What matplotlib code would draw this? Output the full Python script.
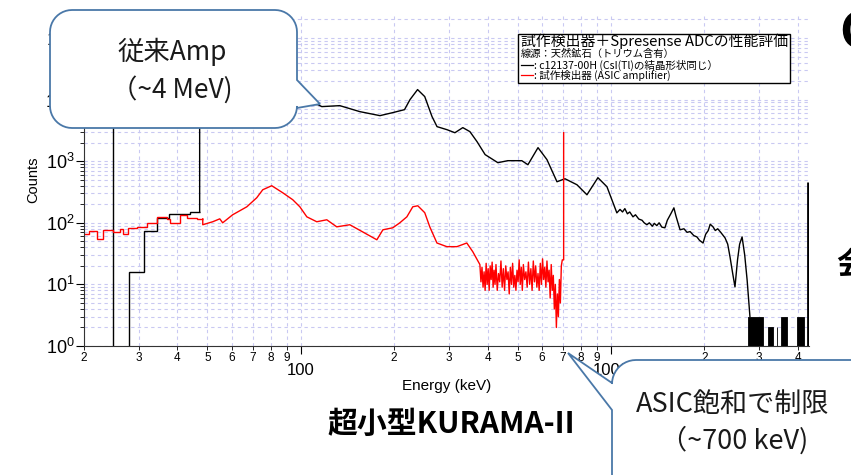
import numpy as np
import matplotlib.pyplot as plt
from matplotlib.ticker import FixedLocator, FixedFormatter, NullFormatter
from matplotlib.patches import Polygon, Rectangle

# ---- data (energy in keV, counts) ----
# c12137-00H (black): coarse bins at low energy
black_edges = [20.0, 24.8, 27.9, 31.2, 34.4, 37.6, 43.8, 47.2]
black_bin_counts = [3e5, 0, 16, 75, 120, 140, 150]

black_energy = [47.2, 47.2, 60, 80, 100, 113.5, 116.9, 133.6, 155, 180, 198, 216, 225,
                238, 251, 265, 275, 296, 314, 333, 351, 370, 393, 432, 465, 516,
                540, 582, 622, 670, 711, 777, 837, 908, 971,
                1045, 1070, 1090, 1109, 1130, 1150, 1178, 1200, 1230, 1260, 1280,
                1306, 1330, 1360, 1380, 1406, 1430, 1460, 1493, 1520, 1560, 1596,
                1620, 1650, 1671, 1720, 1760, 1800, 1850, 1894, 1930, 1982, 2020,
                2060, 2090, 2134, 2170, 2210, 2260, 2333, 2380, 2421, 2470, 2512,
                2560, 2600, 2648, 2700, 2749, 2807]
black_counts = [150, 12000, 11000, 9500, 8800, 8290, 7700, 7980, 6380, 5490, 6150, 6870,
                10000, 14550, 11200, 5290, 3640, 3250, 2900, 3510, 3020, 2080, 1280,
                946, 1020, 1020, 877, 1660, 1060, 464, 519, 415, 285, 540, 385,
                145, 165, 150, 170, 140, 150, 125, 135, 115, 110, 100,
                93, 100, 88, 98, 90, 100, 85, 83, 110, 140, 175,
                130, 95, 77, 80, 70, 72, 62, 59, 52, 47, 65,
                75, 95, 86, 75, 80, 70, 57, 45, 28, 15, 9.1,
                25, 45, 59, 30, 11.8, 3.0]

# sparse high-energy noise (start keV, end keV, top counts)
noise_lo = [2767, 3207, 3428, 3535, 3981]
noise_hi = [3093, 3330, 3440, 3696, 4190]
noise_top = [3, 2, 2, 3, 3]
overflow_energy = 4318
overflow_counts = 465

# prototype detector (red)
red_edges = [20.0, 20.7, 22.0, 23.0, 24.8, 26.1, 26.7, 27.7, 29.6, 31.9, 34.3, 37.0,
             37.8, 40.7, 42.9, 46.2, 48.3]
red_bin_counts = [66, 74, 55, 77, 71, 80, 66, 83, 86, 100, 125, 116, 100, 135, 121, 116]

red_energy = [48.3, 48.3, 52.0, 54.8, 56.0, 60.3, 67.0, 72.1, 75.4, 80.6, 87.5, 94.2,
              99.3, 104.6, 112.6, 121.3, 130.6, 143.9, 158.5, 175.9, 184, 198, 208.6,
              219.8, 229.7, 238.4, 251, 260.6, 274.8, 295.8, 318.7, 343, 358.5,
              378, 381, 384, 387, 390, 393, 396, 399, 402, 405, 408, 411, 414, 417,
              420, 423, 426, 430, 434, 438, 442, 446, 450, 454, 458, 462, 466, 470,
              474, 478, 482, 486, 490, 494, 498, 502, 506, 510, 514, 518, 522, 527,
              532, 537, 542, 547, 552, 557, 562, 567, 572, 577, 582, 587, 592, 597,
              602, 607, 612, 617, 622, 627, 632, 637, 642, 647, 652, 657, 662, 667,
              672, 677, 682, 687, 692, 697, 704, 704]
red_counts = [116, 93, 104, 116, 100, 135, 182, 255, 344, 400, 307, 237,
              182, 125, 104, 112, 86, 93, 71, 53, 77, 83, 100,
              125, 182, 189, 146, 86, 47, 41, 41, 47, 34,
              21, 11, 19, 9, 16, 8, 22, 10, 18, 8, 20, 12, 23, 9,
              17, 10, 21, 8, 15, 11, 24, 9, 18, 8, 20, 12, 16, 7,
              19, 10, 22, 9, 14, 8, 17, 11, 25, 10, 19, 8, 21, 12,
              16, 9, 23, 10, 18, 8, 24, 11, 20, 9, 15, 8, 22, 10,
              26, 12, 19, 9, 24, 11, 17, 6, 21, 8, 14, 4, 10, 2,
              7, 3, 12, 5, 20, 25, 25, 2900]

x_major = [100, 1000]
x_major_labels = ['100', '1000']
x_minor = [20, 30, 40, 50, 60, 70, 80, 90, 200, 300, 400, 500, 600, 700, 800, 900,
           2000, 3000, 4000]
x_minor_labels = ['2', '3', '4', '5', '6', '7', '8', '9', '2', '3', '4', '5', '6',
                  '7', '8', '9', '2', '3', '4']
y_major = [1, 10, 100, 1000, 10000, 100000]
y_major_labels = [r'$\mathregular{10^{%d}}$' % k for k in range(6)]

legend_title = '試作検出器＋Spresense ADCの性能評価'
legend_source = '線源：天然鉱石（トリウム含有）'
legend_black = ': c12137-00H (CsI(Tl)の結晶形状同じ）'
legend_red = ': 試作検出器 (ASIC amplifier)'

plt.rcParams['font.family'] = ['Liberation Sans', 'Noto Sans CJK JP']
jp = ['Noto Sans CJK JP', 'DejaVu Sans']

W, H = 851, 475
fig = plt.figure(figsize=(W / 100, H / 100), dpi=100)
ax = fig.add_axes([84 / W, 1 - 346 / H, (809 - 84) / W, (346 - 13.5) / H])
ax.set_xscale('log')
ax.set_yscale('log')
ax.set_xlim(20, 4352)
ax.set_ylim(1, 2.5e5)

grid_kw = dict(color='#c9c9f2', linestyle=(0, (3, 3)), linewidth=0.8)
ax.grid(True, which='both', **grid_kw)
ax.set_axisbelow(True)

ax.stairs(black_bin_counts, black_edges, color='black', lw=1.0, baseline=None)
ax.plot(black_energy, black_counts, color='black', lw=1.0)
for lo, hi, top in zip(noise_lo, noise_hi, noise_top):
    ax.fill_between([lo, hi], [0.5, 0.5], [top, top], color='black', lw=0.6,
                    edgecolor='black')
ax.vlines(overflow_energy, 0.5, overflow_counts, color='black', lw=2.0)

ax.stairs(red_bin_counts, red_edges, color='red', lw=1.0, baseline=None)
ax.plot(red_energy, red_counts, color='red', lw=1.0)

for side in ['top', 'right']:
    ax.spines[side].set_visible(False)
ax.spines['left'].set_color('#333333')
ax.spines['bottom'].set_color('#333333')

ax.xaxis.set_major_locator(FixedLocator(x_major))
ax.xaxis.set_major_formatter(FixedFormatter(x_major_labels))
ax.xaxis.set_minor_locator(FixedLocator(x_minor))
ax.xaxis.set_minor_formatter(FixedFormatter(x_minor_labels))
ax.tick_params(axis='x', which='major', length=6, pad=6, labelsize=12)
ax.tick_params(axis='x', which='minor', length=3, pad=1.5, labelsize=8.5)

ax.yaxis.set_major_locator(FixedLocator(y_major))
ax.yaxis.set_major_formatter(FixedFormatter(y_major_labels))
ax.yaxis.set_minor_formatter(NullFormatter())
ax.tick_params(axis='y', which='major', length=6, pad=1, labelsize=13)
ax.tick_params(axis='y', which='minor', length=3)

ax.set_xlabel('Energy (keV)', fontsize=11, labelpad=1)
ax.set_ylabel('Counts', fontsize=10.5, labelpad=4)

# ---- overlay in pixel coordinates ----
ov = fig.add_axes([0, 0, 1, 1], zorder=10)
ov.set_xlim(0, W)
ov.set_ylim(H, 0)
ov.axis('off')
ov.patch.set_alpha(0)


def callout(x0, y0, x1, y1, r, side, a, b, tip):
    def arc(cx, cy, t0, t1):
        t = np.linspace(t0, t1, 12)
        return list(zip(cx + r * np.cos(t), cy + r * np.sin(t)))
    pts = []
    pts += arc(x0 + r, y0 + r, np.pi, 1.5 * np.pi)
    pts += arc(x1 - r, y0 + r, 1.5 * np.pi, 2 * np.pi)
    if side == 'right':
        pts += [(x1, a), tip, (x1, b)]
    pts += arc(x1 - r, y1 - r, 0, 0.5 * np.pi)
    pts += arc(x0 + r, y1 - r, 0.5 * np.pi, np.pi)
    if side == 'left':
        pts += [(x0, b), tip, (x0, a)]
    ov.add_patch(Polygon(pts, closed=True, facecolor='white', edgecolor='#4a78a8',
                         lw=1.3, clip_on=False))


callout(50, 10, 297, 128, 22, 'right', 80, 108, (320, 104))
ov.text(172, 52, '従来Amp', ha='center', va='center', fontsize=19, family=jp,
        color='#1a1a1a')
ov.text(172, 90, '（~4 MeV)', ha='center', va='center', fontsize=19, family=jp,
        color='#1a1a1a')

callout(612, 360, 900, 520, 24, 'left', 383, 410, (568, 353))
ov.text(733, 404, 'ASIC飽和で制限', ha='center', va='center', fontsize=19.5,
        family=jp, color='#1a1a1a')
ov.text(734, 440, '（~700 keV)', ha='center', va='center', fontsize=19.5,
        family=jp, color='#1a1a1a')

ov.text(451, 424, '超小型KURAMA-II', ha='center', va='center', fontsize=21.5,
        fontweight='bold', family=jp, color='black')

# legend box
ov.add_patch(Rectangle((518, 34), 272, 49, facecolor='white', edgecolor='black',
                       lw=1.0))
ov.text(521, 41, legend_title, ha='left', va='center', fontsize=10.7, family=jp)
ov.text(521, 53.5, legend_source, ha='left', va='center', fontsize=7.4, family=jp)
ov.plot([521, 533], [65, 65], color='black', lw=0.9)
ov.text(534, 65, legend_black, ha='left', va='center', fontsize=7.6, family=jp)
ov.plot([521, 533], [75, 75], color='red', lw=0.9)
ov.text(534, 75, legend_red, ha='left', va='center', fontsize=7.6, family=jp)

# slide text cut off at the right edge
ov.text(839, 34, 'C', ha='left', va='center', fontsize=36, fontweight='bold',
        family=jp, color='black', clip_on=False)
ov.text(836, 265, '会', ha='left', va='center', fontsize=22, fontweight='bold',
        family=jp, color='black', clip_on=False)

fig.savefig('out.png', dpi=100)
